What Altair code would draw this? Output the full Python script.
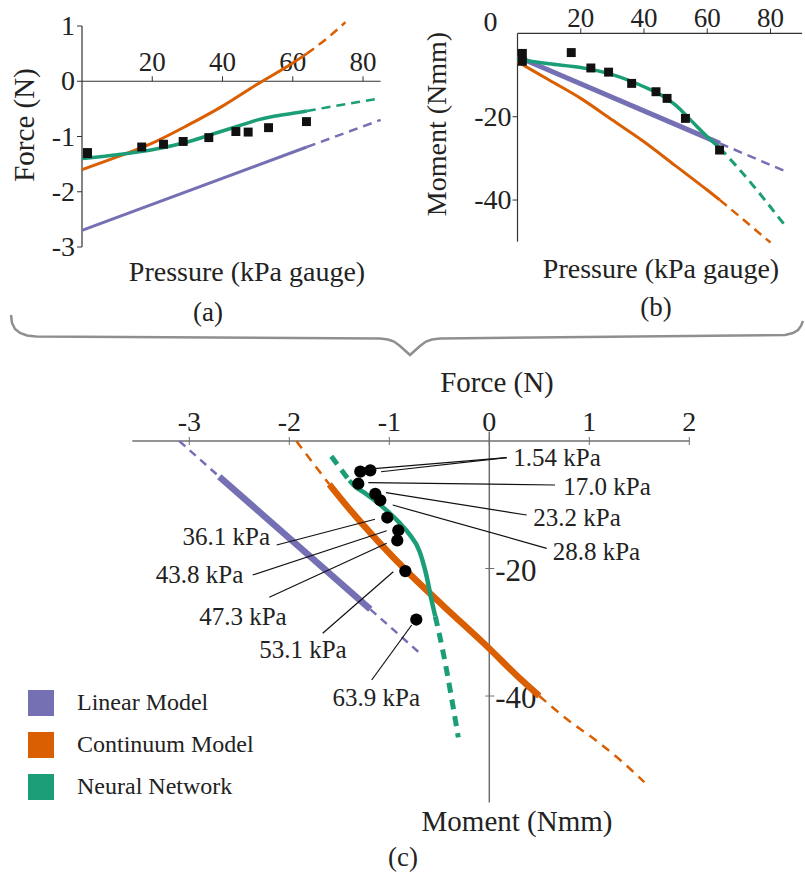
import altair as alt
import pandas as pd

# ---------------- data ----------------
models = ["Linear Model", "Continuum Model", "Neural Network"]
colors = ["#7570b3", "#d95f02", "#1b9e77"]

# model curves (pressure kPa, force N, moment Nmm)
lin_p = [-17, 0, 64, 85]
lin_force = [-3.10, -2.70, -1.19, -0.70]
lin_moment = [0.0, -5.6, -26.4, -33.2]

con_p = [-14, 0, 10, 20, 30, 40, 50, 60, 64, 70, 75, 80, 85]
con_force = [-1.93, -1.60, -1.37, -1.12, -0.80, -0.45, -0.05, 0.33, 0.50, 0.79, 1.07, 1.32, 1.55]
con_moment = [0.0, -6.8, -11.2, -15.6, -20.8, -26.0, -31.8, -37.6, -40.0, -43.8, -47.0, -50.2, -53.5]

nn_p = [-17, 0, 10, 20, 30, 40, 45, 50, 55, 60, 64, 70, 85]
nn_force = [-1.58, -1.40, -1.33, -1.24, -1.10, -0.90, -0.80, -0.70, -0.63, -0.58, -0.54, -0.47, -0.31]
nn_moment = [-2.4, -6.2, -7.3, -8.2, -9.9, -12.8, -14.6, -17.2, -21.0, -24.8, -27.5, -32.5, -46.5]

# measurements
meas_p = [1.54, 1.54, 17.0, 23.2, 28.8, 36.1, 43.8, 47.3, 53.1, 63.9]
meas_force = [-1.29, -1.31, -1.19, -1.14, -1.09, -1.02, -0.91, -0.92, -0.84, -0.73]
meas_moment = [-4.8, -6.7, -4.6, -8.3, -9.3, -12.0, -14.0, -15.6, -20.4, -28.0]

# annotation labels for panel (c)
ann_text = ["1.54 kPa", "17.0 kPa", "23.2 kPa", "28.8 kPa", "36.1 kPa",
            "43.8 kPa", "47.3 kPa", "53.1 kPa", "63.9 kPa"]
ann_f = [0.24, 0.74, 0.44, 0.634, -2.193, -2.46, -2.026, -1.426, -0.693]
ann_m = [-2.72, -7.17, -12.13, -17.36, -15.01, -21.02, -27.56, -32.78, -40.3]
ann_side = ["left", "left", "left", "left", "right", "right", "right", "right", "right"]
lead_f1 = [-1.243, -1.083, -1.21, -1.033, -0.966, -1.143, -1.026, -1.026, -0.96, -0.776]
lead_m1 = [-4.44, -4.82, -6.54, -8.11, -10.04, -12.28, -14.07, -16.05, -20.50, -28.86]
lead_f2 = [0.174, 0.174, 0.657, 0.374, 0.574, -2.126, -2.366, -2.20, -1.666, -1.176]
lead_m2 = [-2.62, -2.62, -6.90, -11.61, -16.83, -16.31, -21.02, -24.52, -30.16, -37.49]

# axis ticks
a_xticks = [20, 40, 60, 80]
a_yticks = [1, 0, -1, -2, -3]
b_xticks = [20, 40, 60, 80]
b_yticks = [-20, -40]
c_xticks = [-3, -2, -1, 0, 1, 2]
c_yticks = [-20, -40]

# decorative brace outline (page pixels)
brace_x = [11, 12, 15, 20, 27, 36, 380, 388, 394, 400, 405, 410, 415, 420, 426, 432, 440, 785, 793, 798, 801, 803]
brace_y = [315, 323, 329, 333, 335.5, 336.5, 338.5, 339.5, 341.5, 346, 350.5, 355, 350.5, 346, 341.5, 339.5, 338.5, 335, 333, 330, 326, 321]

# ---------------- tables ----------------
rows = []
for m, ps, fs, ms in [(models[0], lin_p, lin_force, lin_moment),
                      (models[1], con_p, con_force, con_moment),
                      (models[2], nn_p, nn_force, nn_moment)]:
    for seg, cond in [("lo", lambda p: p <= 0), ("mid", lambda p: 0 <= p <= 64), ("hi", lambda p: p >= 64)]:
        idx = [i for i, p in enumerate(ps) if cond(p)]
        if len(idx) < 2:
            continue
        for i in idx:
            rows.append(dict(model=m, seg=seg, style="solid" if seg == "mid" else "dashed",
                             p=ps[i], force=fs[i], moment=ms[i]))
curves = pd.DataFrame(rows)
meas = pd.DataFrame(dict(p=meas_p, force=meas_force, moment=meas_moment))
ann = pd.DataFrame(dict(t=ann_text, f=ann_f, m=ann_m, side=ann_side))
leads = pd.DataFrame(dict(f1=lead_f1, m1=lead_m1, f2=lead_f2, m2=lead_m2))
brace = pd.DataFrame(dict(x=brace_x, y=brace_y, i=list(range(len(brace_x)))))

FONT = "Liberation Serif"
TXT = "#222222"


def sc(domain, rng):
    return alt.Scale(domain=domain, range=rng, zero=False, nice=False)


# panel placements
ax, ay = sc([0, 85], [82, 380.6]), sc([-3, 1], [247, 26])
bx, by = sc([0, 90], [517.5, 802.1]), sc([-50, 0], [241.7, 33.4])
cx, cy = sc([-3.57, 2], [132.3, 689.3]), sc([-57, 0], [804.4, 441])
px, py = sc([0, 805], [0, 805]), sc([0, 875], [0, 875])


def X(f, s):
    return alt.X(f, type="quantitative", scale=s, axis=None)


def Y(f, s):
    return alt.Y(f, type="quantitative", scale=s, axis=None)


def axes(xs, ys, hx, vy, color, width):
    df = pd.DataFrame(dict(x1=[hx[0], 0], x2=[hx[1], 0], y1=[0, vy[0]], y2=[0, vy[1]]))
    return alt.Chart(df).mark_rule(color=color, strokeWidth=width).encode(
        x=X("x1", xs), x2="x2:Q", y=Y("y1", ys), y2="y2:Q")


def xticks(vals, xs, ys, off1, off2, color):
    df = pd.DataFrame(dict(v=vals, z=[0] * len(vals)))
    return alt.Chart(df).mark_rule(color=color, strokeWidth=1, yOffset=off1, y2Offset=off2).encode(
        x=X("v", xs), y=Y("z", ys), y2="z:Q")


def yticks(vals, xs, ys, off1, off2, color):
    df = pd.DataFrame(dict(v=vals, z=[0] * len(vals)))
    return alt.Chart(df).mark_rule(color=color, strokeWidth=1, xOffset=off1, x2Offset=off2).encode(
        y=Y("v", ys), x=X("z", xs), x2="z:Q")


def xlabels(vals, xs, ys, dy, size):
    df = pd.DataFrame(dict(v=vals, z=[0] * len(vals), t=[str(v) for v in vals]))
    return alt.Chart(df).mark_text(font=FONT, fontSize=size, color=TXT, baseline="alphabetic",
                                   align="center", dy=dy).encode(
        x=X("v", xs), y=Y("z", ys), text="t:N")


def ylabels(vals, xs, ys, dx, dy, size, align):
    df = pd.DataFrame(dict(v=vals, z=[0] * len(vals), t=[str(v) for v in vals]))
    return alt.Chart(df).mark_text(font=FONT, fontSize=size, color=TXT, baseline="middle",
                                   align=align, dx=dx, dy=dy).encode(
        y=Y("v", ys), x=X("z", xs), text="t:N")


def model_lines(xf, yf, xs, ys, filt, solid_w, dash_w, dashes):
    out = []
    for style in ["dashed", "solid"]:
        for i, m in enumerate(models):
            base = alt.Chart(curves).transform_filter(
                f"datum.model == '{m}' && datum.style == '{style}'")
            if filt:
                base = base.transform_filter(filt)
            mk = dict(interpolate="monotone", color=colors[i],
                      strokeWidth=(solid_w[i] if style == "solid" else dash_w[i]))
            if style == "dashed":
                mk["strokeDash"] = dashes[i]
            out.append(base.mark_line(**mk).encode(
                x=X(xf, xs), y=Y(yf, ys), detail="seg:N", order="p:Q"))
    return out


def title(text, x, y, size, angle=0):
    return alt.Chart(pd.DataFrame(dict(t=[text]))).mark_text(
        font=FONT, fontSize=size, color=TXT, align="center", baseline="middle", angle=angle
    ).encode(x=alt.value(x), y=alt.value(y), text="t:N")


AX = "#333333"

# ---------------- panel (a) ----------------
panel_a = alt.layer(
    axes(ax, ay, [0, 85], [-3, 1], AX, 1.2),
    xticks(a_xticks, ax, ay, 0, -5, AX),
    yticks(a_yticks, ax, ay, 0, -5, AX),
    xlabels(a_xticks, ax, ay, -10, 27),
    ylabels(a_yticks, ax, ay, -7, 1, 28, "right"),
    *model_lines("p", "force", ax, ay, "datum.p >= 0 && datum.force <= 1.1",
                 [3, 3, 3.5], [2.5, 2.5, 2.5], [[9, 6], [9, 6], [9, 6]]),
    alt.Chart(meas).mark_square(size=80, color="#111111", opacity=1).encode(
        x=X("p", ax), y=Y("force", ay)),
)

# ---------------- panel (b) ----------------
panel_b = alt.layer(
    axes(bx, by, [0, 90], [-50, 0], AX, 1.2),
    xticks(b_xticks, bx, by, 0, -5, AX),
    yticks(b_yticks, bx, by, 0, -5, AX),
    xlabels(b_xticks, bx, by, -6, 27),
    ylabels(b_yticks, bx, by, -6, 1, 28, "right"),
    ylabels([0], bx, by, -20, -10, 28, "right"),
    *model_lines("p", "moment", bx, by, "datum.p >= 0 && datum.moment >= -50.5",
                 [5, 3, 3.5], [2.5, 2.5, 3], [[9, 6], [9, 6], [9, 6]]),
    alt.Chart(meas).mark_square(size=80, color="#111111", opacity=1).encode(
        x=X("p", bx), y=Y("moment", by)),
)

# ---------------- panel (c) ----------------
CAX = "#707070"
panel_c = alt.layer(
    axes(cx, cy, [-3.57, 2], [-56.7, 1.5], CAX, 1.5),
    xticks(c_xticks, cx, cy, -4, 4, CAX),
    yticks(c_yticks, cx, cy, -4, 5, CAX),
    xlabels(c_xticks, cx, cy, -10, 28),
    ylabels(c_yticks, cx, cy, 6, 3, 31, "left"),
    *model_lines("force", "moment", cx, cy, None,
                 [6.5, 6.5, 4.5], [2.5, 2.5, 5], [[8, 6], [9, 7], [10, 7]]),
    alt.Chart(meas).mark_circle(size=150, color="#000000", opacity=1).encode(
        x=X("force", cx), y=Y("moment", cy)),
    alt.Chart(leads).mark_rule(color="#111111", strokeWidth=1.2).encode(
        x=X("f1", cx), x2="f2:Q", y=Y("m1", cy), y2="m2:Q"),
    alt.Chart(ann).transform_filter("datum.side == 'left'").mark_text(
        font=FONT, fontSize=25, color=TXT, align="left", baseline="middle").encode(
        x=X("f", cx), y=Y("m", cy), text="t:N"),
    alt.Chart(ann).transform_filter("datum.side == 'right'").mark_text(
        font=FONT, fontSize=25, color=TXT, align="right", baseline="middle").encode(
        x=X("f", cx), y=Y("m", cy), text="t:N"),
)

# ---------------- brace ----------------
brace_layer = alt.Chart(brace).mark_line(color="#8f8f8f", strokeWidth=2.5).encode(
    x=X("x", px), y=Y("y", py), order="i:Q")

# ---------------- legend ----------------
leg_y = alt.Y("model:N", scale=alt.Scale(type="point", domain=models, range=[703, 787], padding=0), axis=None)
leg_df = pd.DataFrame(dict(model=models))
legend_layer = alt.layer(
    alt.Chart(leg_df).mark_square(size=676, opacity=1).encode(
        x=alt.value(41), y=leg_y,
        color=alt.Color("model:N", scale=alt.Scale(domain=models, range=colors), legend=None)),
    alt.Chart(leg_df).mark_text(font=FONT, fontSize=24, color=TXT, align="left", baseline="middle").encode(
        x=alt.value(77), y=leg_y, text="model:N"),
)

titles = alt.layer(
    title("Force (N)", 25, 125, 29, 270),
    title("Pressure (kPa gauge)", 247, 273, 28),
    title("(a)", 208, 313, 27),
    title("Moment (Nmm)", 438, 124, 28, 270),
    title("Pressure (kPa gauge)", 661, 270, 28),
    title("(b)", 656, 308, 27),
    title("Force (N)", 497, 383, 29),
    title("Moment (Nmm)", 517, 822, 29),
    title("(c)", 403, 858, 27),
)

chart = alt.layer(brace_layer, panel_a, panel_b, panel_c, legend_layer, titles).resolve_scale(
    x="independent", y="independent"
).properties(
    width=805, height=875, padding=0, autosize="none", background="white"
).configure_view(stroke=None)

chart.save("out.html", embed_options={"renderer": "svg", "actions": False})
